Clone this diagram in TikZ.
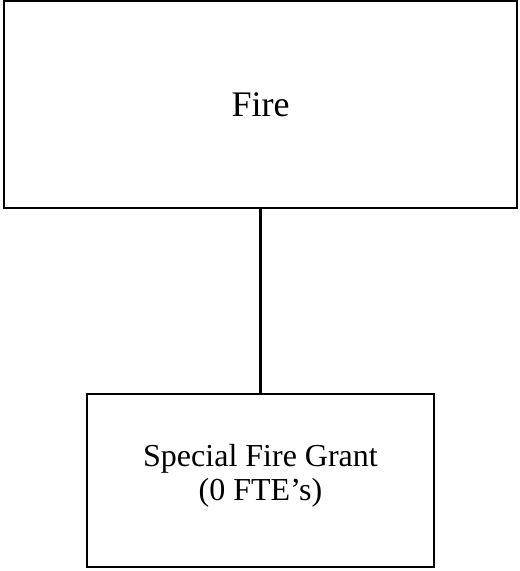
\documentclass[tikz,border=0pt]{standalone}
\usepackage{fontspec}
\setmainfont{Liberation Serif}
\begin{document}
\begin{tikzpicture}[x=0.75pt,y=-0.75pt,
  unitbox/.style={draw=black,line width=2.1pt,fill=white,rectangle,inner sep=0pt,align=center},
  link/.style={draw=black,line width=2.1pt}]
  \useasboundingbox (0,0) rectangle (519,571);
  % department box
  \node[unitbox,minimum width=513*0.75pt,minimum height=207*0.75pt,
        font=\fontsize{27pt}{32pt}\selectfont] (fire) at (260.5,104.5) {Fire};
  % program box
  \node[unitbox,minimum width=347*0.75pt,minimum height=173*0.75pt,
        font=\fontsize{24pt}{25pt}\selectfont] (grant) at (260.5,480.5)
        {Special Fire Grant\\[0.5pt](0 FTE’s)\rule[-12pt]{0pt}{1pt}};
  % reporting line
  \draw[link] (fire.south) -- (grant.north);
\end{tikzpicture}
\end{document}
